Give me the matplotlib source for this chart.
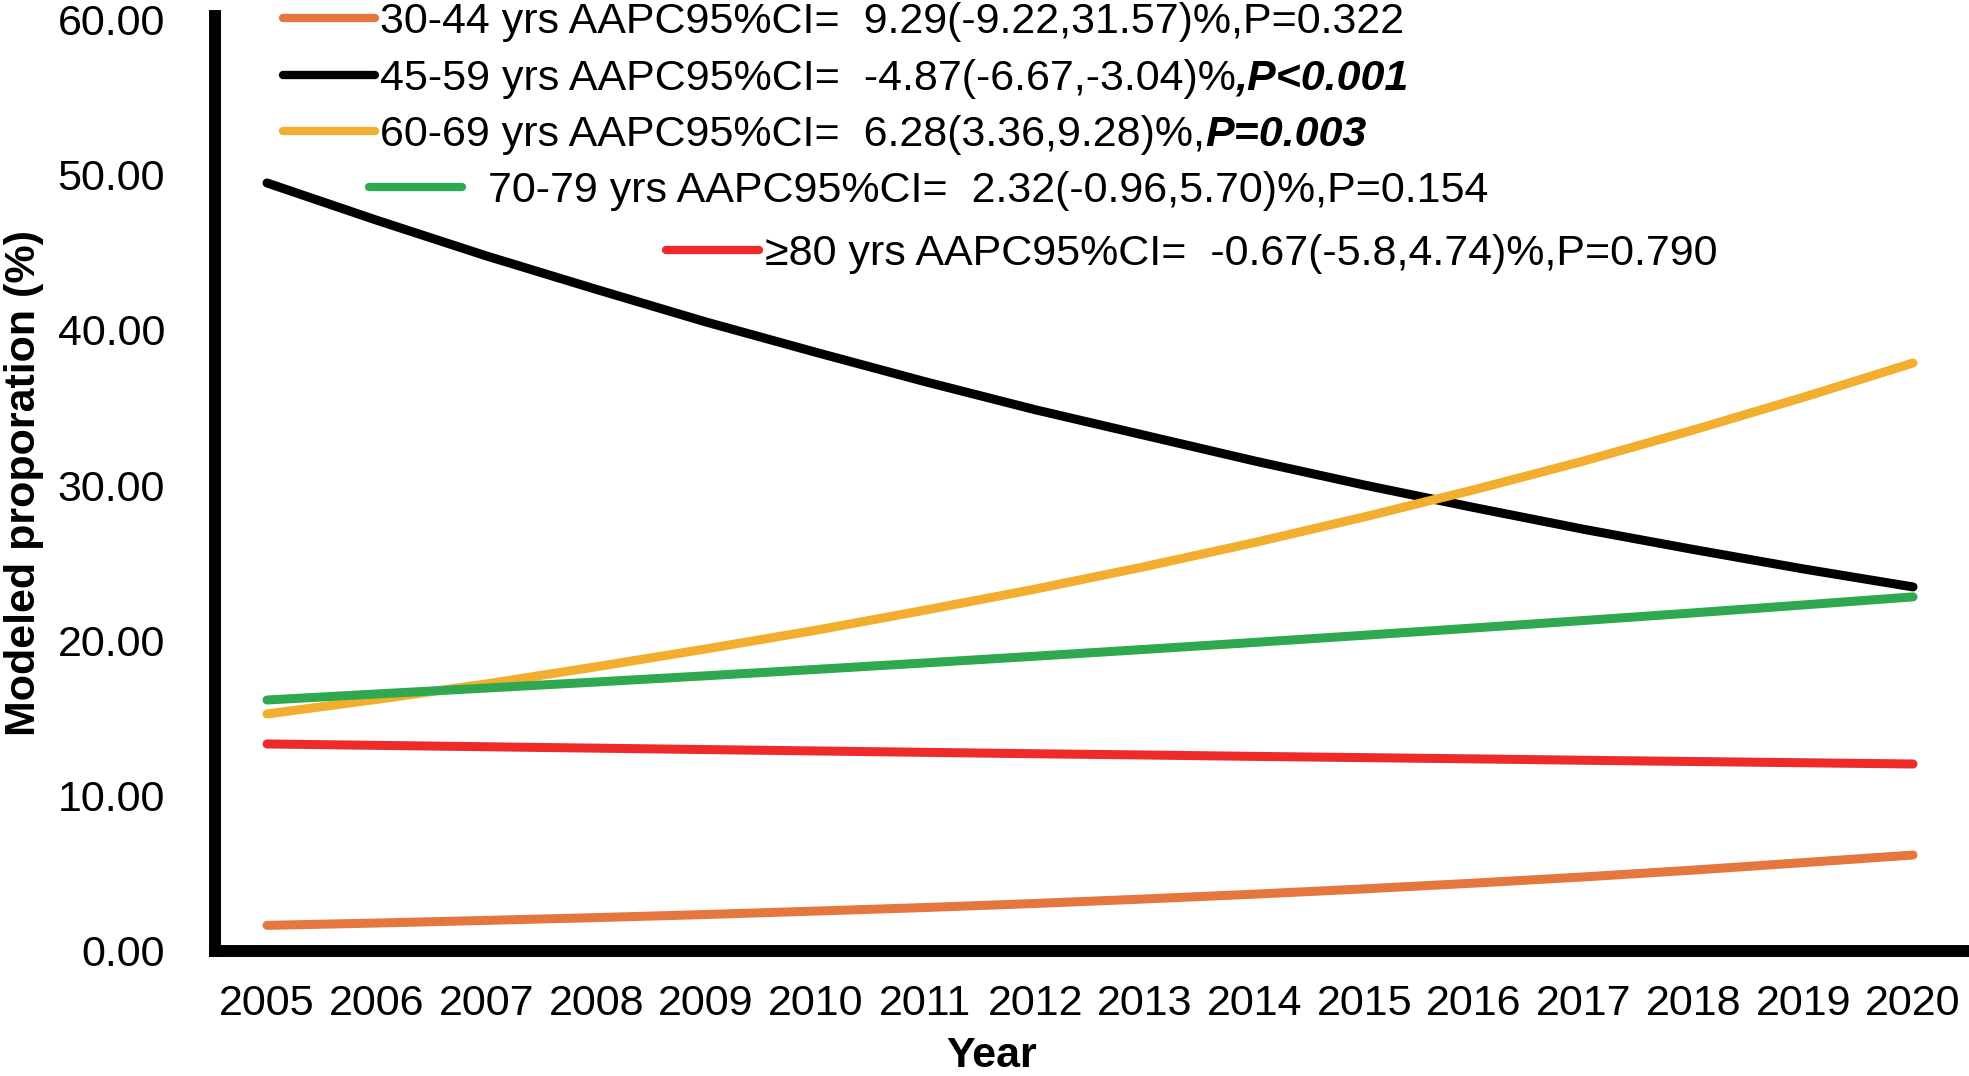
import matplotlib
matplotlib.use("Agg")
import matplotlib.pyplot as plt

plt.rcParams["font.family"] = ["Liberation Sans", "DejaVu Sans"]

years = list(range(2005, 2021))

age_30_44 = [1.65, 1.80, 1.97, 2.15, 2.35, 2.57, 2.80, 3.06, 3.35, 3.66, 4.00, 4.37, 4.77, 5.21, 5.69, 6.18]
age_45_59 = [49.45, 47.05, 44.75, 42.60, 40.50, 38.55, 36.65, 34.85, 33.20, 31.55, 30.00, 28.55, 27.15, 25.85, 24.60, 23.44]
age_60_69 = [15.26, 16.20, 17.20, 18.30, 19.45, 20.65, 21.95, 23.30, 24.75, 26.30, 27.95, 29.70, 31.55, 33.55, 35.65, 37.86]
age_70_79 = [16.16, 16.55, 16.93, 17.32, 17.72, 18.13, 18.55, 18.98, 19.42, 19.87, 20.33, 20.80, 21.28, 21.77, 22.28, 22.80]
age_80_up = [13.33, 13.24, 13.15, 13.06, 12.97, 12.88, 12.79, 12.70, 12.62, 12.53, 12.45, 12.37, 12.28, 12.20, 12.12, 12.04]

series = [
    ("30-44", age_30_44, "#E5773E"),
    ("45-59", age_45_59, "#000000"),
    ("60-69", age_60_69, "#F2AE2E"),
    ("70-79", age_70_79, "#2FA84F"),
    ("80+", age_80_up, "#EE2A2A"),
]

# legend rows: (plain text, bold italic tail)
legend_texts = [
    ("30-44 yrs AAPC95%CI=  9.29(-9.22,31.57)%,P=0.322", ""),
    ("45-59 yrs AAPC95%CI=  -4.87(-6.67,-3.04)%", ",P<0.001"),
    ("60-69 yrs AAPC95%CI=  6.28(3.36,9.28)%,", "P=0.003"),
    ("70-79 yrs AAPC95%CI=  2.32(-0.96,5.70)%,P=0.154", ""),
    ("\u226580 yrs AAPC95%CI=  -0.67(-5.8,4.74)%,P=0.790", ""),
]

y_ticks = [0, 10, 20, 30, 40, 50, 60]

W, H = 1969, 1076
fig = plt.figure(figsize=(W / 100, H / 100), dpi=100)
fig.patch.set_facecolor("white")

left, right, bottom, top = 215, 1969, 951, 16
ax = fig.add_axes([left / W, 1 - bottom / H, (right - left) / W, (bottom - top) / H])

for name, values, color in series:
    ax.plot(years, values, color=color, linewidth=6.5, solid_capstyle="round", zorder=3)

ax.set_xlim(2004.526, 2020.51)
ax.set_ylim(0, 60.2)
ax.set_xticks(years)
ax.set_xticklabels([str(y) for y in years])
ax.set_yticks(y_ticks)
ax.set_yticklabels([f"{v:.2f}" for v in y_ticks])
ax.tick_params(axis="both", length=0, labelsize=31)
ax.tick_params(axis="x", pad=24)
ax.tick_params(axis="y", pad=36)

for spine in ["top", "right"]:
    ax.spines[spine].set_visible(False)
for spine in ["left", "bottom"]:
    ax.spines[spine].set_linewidth(8.6)
    ax.spines[spine].set_color("black")

ax.set_xlabel("Year", fontsize=31, fontweight="bold")
ax.xaxis.set_label_coords(0.443, -0.091)
ax.set_ylabel("Modeled proporation (%)", fontsize=31, fontweight="bold")
ax.yaxis.set_label_coords(-0.0975, 0.5)

# overlay in pixel coordinates for the hand placed legend
over = fig.add_axes([0, 0, 1, 1], zorder=5)
over.set_xlim(0, W)
over.set_ylim(H, 0)
over.axis("off")

legend_rows = [
    (283, 375, 18, 380),
    (283, 375, 75, 380),
    (283, 375, 131, 380),
    (369, 462, 187, 488),
    (666, 759, 250, 765),
]

for (x0, x1, y, tx), (plain, tail), (_, _, color) in zip(legend_rows, legend_texts, series):
    over.plot([x0, x1], [y, y], color=color, linewidth=6, solid_capstyle="round")
    t = over.text(tx, y + 15, plain, fontsize=31, ha="left", va="baseline")
    if tail:
        over.annotate(tail, xy=(1, 0), xycoords=t, fontsize=31, fontweight="bold",
                      fontstyle="italic", ha="left", va="bottom")

fig.savefig("out.png", dpi=100)
plt.close(fig)
